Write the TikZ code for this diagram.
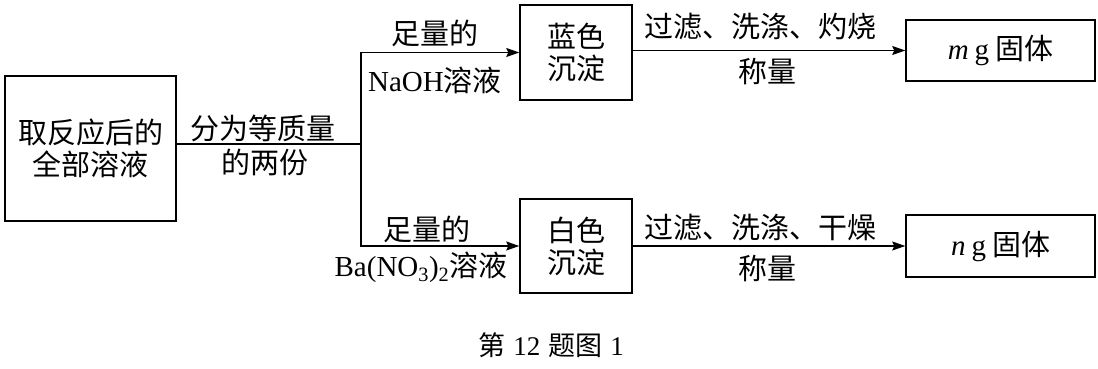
\documentclass[tikz,border=0pt]{standalone}
\usepackage{fontspec}
\setmainfont{Liberation Serif}
\newfontfamily\cjk{Noto Sans CJK SC}
\usetikzlibrary{arrows.meta}
\newcommand\zh[1]{{\cjk #1}}
\begin{document}
\begin{tikzpicture}[x=1pt,y=-1pt,
  every node/.style={inner sep=0pt,font=\fontsize{29}{32}\selectfont},
  box/.style={draw,line width=1.5pt,align=center},
  line/.style={line width=1.5pt},
  arr/.style={line,-{Stealth[length=13pt,width=9pt,inset=2pt]}}]
\useasboundingbox (0,0) rectangle (1098,369);
\node[box,minimum width=171pt,minimum height=145pt] (L) at (90.5,148.5) {\zh{取反应后的}\\\zh{全部溶液}};
\node[box,minimum width=112pt,minimum height=95pt] (B1) at (576,52.5) {\zh{蓝色}\\\zh{沉淀}};
\node[box,minimum width=112pt,minimum height=94pt] (B2) at (576,246) {\zh{白色}\\\zh{沉淀}};
\node[box,minimum width=189pt,minimum height=61pt] (M) at (1000.5,50.5) {\textit{m}\hspace{6pt}g\hspace{6pt}\zh{固体}};
\node[box,minimum width=189pt,minimum height=62pt] (N) at (1000.5,246) {\textit{n}\hspace{6pt}g\hspace{6pt}\zh{固体}};
\node (t1) at (263,128) {\zh{分为等质量}};
\node (t2) at (265,162) {\zh{的两份}};
\node (t3) at (435,33) {\zh{足量的}};
\node (t4) at (435,80) {NaOH\zh{溶液}};
\node (t5) at (427,229) {\zh{足量的}};
\node (t6) at (421,267) {Ba(NO\textsubscript{3})\textsubscript{2}\zh{溶液}};
\node (t7) at (760,27) {\zh{过滤、洗涤、灼烧}};
\node (t8) at (767,72) {\zh{称量}};
\node (t9) at (760,228) {\zh{过滤、洗涤、干燥}};
\node (t10) at (767,269) {\zh{称量}};
\node[font=\fontsize{27}{29}\selectfont] (cap) at (551,345) {\zh{第}\hspace{8pt}12\hspace{8pt}\zh{题图}\hspace{8pt}1};
\coordinate (sp) at (361,144);
\draw[line] (L.east |- sp) -- (sp);
\draw[arr] (sp) |- (B1);
\draw[arr] (sp) |- (B2);
\draw[arr] (B1.east |- M.west) -- (M.west);
\draw[arr] (B2.east) -- (N.west);
\end{tikzpicture}
\end{document}
